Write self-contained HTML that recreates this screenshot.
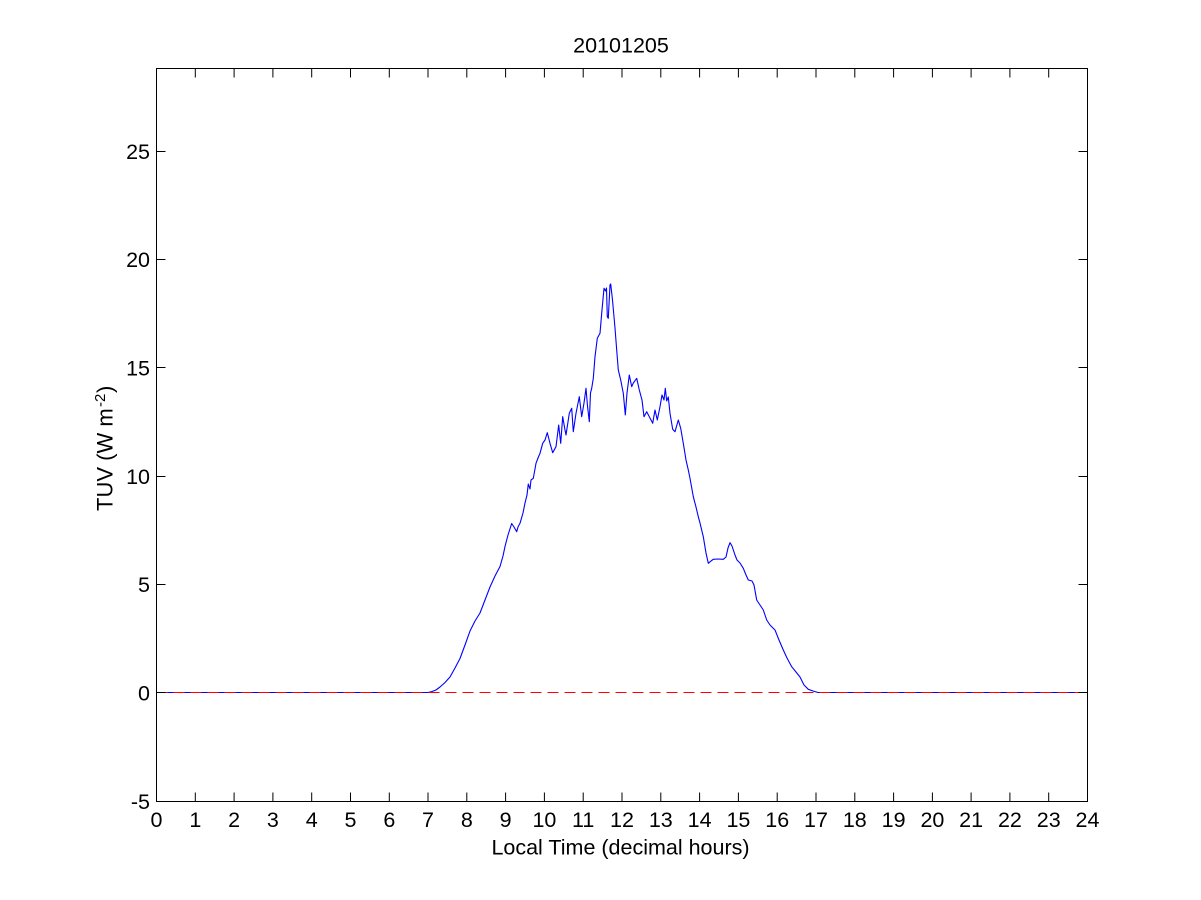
<!DOCTYPE html>
<html>
<head>
<meta charset="utf-8">
<style>
html,body{margin:0;padding:0;background:#fff;}
svg{display:block;}
text{font-family:"Liberation Sans",Arial,sans-serif;fill:#000;}
</style>
</head>
<body>
<svg width="1201" height="900" viewBox="0 0 1201 900" xmlns="http://www.w3.org/2000/svg">
<rect x="0" y="0" width="1201" height="900" fill="#fff"/>

<!-- data line -->
<polyline fill="none" stroke="#0000ff" stroke-width="1.1" stroke-linejoin="round" points="
156.5,692.5 428,692.5 432,691.5 436,690 440,687 445,682.5 450,677 455,668 460,658.5 465,645 470,631 475,621 480,613 485,600 490,587 495,576 500,566.5 503,556 505,546.5 508,535 511.7,523.5 514,527 516.7,531.7 518,527 520,523.3 523,513 525,503 527,495 528.3,484 530,489 531,480 533.3,478.3 536,463.3 538,458 540,453.3 542.7,443.3 545,440 547.3,432.7 550,443.3 552.7,452.7 556,446.7 558.7,425 560.7,443.3 562.7,416.7 565,430 566,435 569.3,413.3 571.7,408.3 573.3,431.7 576,413.3 579.3,396.7 581.7,416.7 584,403 586,388.3 587.5,406 589.3,421.7 590.5,393 591.7,388.3 593.3,378.3 595,356.7 597.3,338.3 600,333.3 601.7,313.3 604,288.3 605.5,291 606.5,288 607.3,316.7 608.3,318.3 610,285 610.7,284 612.5,300 615,328 616.7,350 618.3,370 620.7,380 623.3,393.3 625.3,415 627,393 629.3,375 631.7,386.7 633.3,383 636.7,378.3 639.3,390 642,400 644,416.7 646.7,411.7 649.3,416.7 652.7,423.3 655,410 657.3,420 660,406.7 662,395 664,400 665.3,388.3 666.7,401 668.3,397 670,413.3 672.7,429.3 675,431.7 678.3,420 680.7,428.3 683.3,443.3 686,460 688.3,470 690,478.3 693.3,496.7 696,507 698.3,516.7 700,523 703.3,536.7 706,553 708.3,563.3 711,561 713.3,559.3 718,559 723.3,559.3 726,557 728,548 730,542.7 732,546 734,552 735,555 737,560 740,563 743.3,568.3 746,575 748.3,580 752,581 754,585 756.7,600 760,605 763.3,610 766.7,620 770,625 775,630 779,640 783.3,650 787,658 791.7,666.7 796,672 800,677 804,685 808.3,689.3 813,691 818,692.5 1087.5,692.5"/>

<!-- zero dashed line -->
<line x1="156.5" y1="692.5" x2="1087.5" y2="692.5" stroke="#ff0000" stroke-width="1" stroke-dasharray="11 6" shape-rendering="crispEdges"/>

<!-- axes box -->
<rect x="156.5" y="68.5" width="931" height="733" fill="none" stroke="#000" stroke-width="1"/>

<!-- ticks -->
<g stroke="#000" stroke-width="1">
<path d="
M195.3,801.5v-9 M234.1,801.5v-9 M272.9,801.5v-9 M311.7,801.5v-9 M350.5,801.5v-9 M389.3,801.5v-9 M428.0,801.5v-9 M466.8,801.5v-9 M505.6,801.5v-9 M544.4,801.5v-9 M583.2,801.5v-9 M622.0,801.5v-9 M660.8,801.5v-9 M699.6,801.5v-9 M738.4,801.5v-9 M777.2,801.5v-9 M816.0,801.5v-9 M854.8,801.5v-9 M893.6,801.5v-9 M932.4,801.5v-9 M971.1,801.5v-9 M1009.9,801.5v-9 M1048.7,801.5v-9
M195.3,68.5v9 M234.1,68.5v9 M272.9,68.5v9 M311.7,68.5v9 M350.5,68.5v9 M389.3,68.5v9 M428.0,68.5v9 M466.8,68.5v9 M505.6,68.5v9 M544.4,68.5v9 M583.2,68.5v9 M622.0,68.5v9 M660.8,68.5v9 M699.6,68.5v9 M738.4,68.5v9 M777.2,68.5v9 M816.0,68.5v9 M854.8,68.5v9 M893.6,68.5v9 M932.4,68.5v9 M971.1,68.5v9 M1009.9,68.5v9 M1048.7,68.5v9
M156.5,692.5h9 M156.5,584.5h9 M156.5,476.5h9 M156.5,367.5h9 M156.5,259.5h9 M156.5,151.5h9
M1087.5,692.5h-9 M1087.5,584.5h-9 M1087.5,476.5h-9 M1087.5,367.5h-9 M1087.5,259.5h-9 M1087.5,151.5h-9
"/>
</g>

<!-- y tick labels -->
<g font-size="21.5" text-anchor="end">
<text x="150" y="809">-5</text>
<text x="150" y="700.5">0</text>
<text x="150" y="592">5</text>
<text x="150" y="484">10</text>
<text x="150" y="375.5">15</text>
<text x="150" y="267">20</text>
<text x="150" y="159">25</text>
</g>

<!-- x tick labels -->
<g font-size="21.5" text-anchor="middle">
<text x="156.5" y="827">0</text>
<text x="195.3" y="827">1</text>
<text x="234.1" y="827">2</text>
<text x="272.9" y="827">3</text>
<text x="311.7" y="827">4</text>
<text x="350.5" y="827">5</text>
<text x="389.3" y="827">6</text>
<text x="428.0" y="827">7</text>
<text x="466.8" y="827">8</text>
<text x="505.6" y="827">9</text>
<text x="544.4" y="827">10</text>
<text x="583.2" y="827">11</text>
<text x="622.0" y="827">12</text>
<text x="660.8" y="827">13</text>
<text x="699.6" y="827">14</text>
<text x="738.4" y="827">15</text>
<text x="777.2" y="827">16</text>
<text x="816.0" y="827">17</text>
<text x="854.8" y="827">18</text>
<text x="893.6" y="827">19</text>
<text x="932.4" y="827">20</text>
<text x="971.1" y="827">21</text>
<text x="1009.9" y="827">22</text>
<text x="1048.7" y="827">23</text>
<text x="1087.5" y="827">24</text>
</g>

<!-- title -->
<text x="621" y="52.5" font-size="21.5" text-anchor="middle">20101205</text>

<!-- x label -->
<text x="620.5" y="854.5" font-size="21.5" text-anchor="middle">Local Time (decimal hours)</text>

<!-- y label -->
<g transform="translate(112.5,511) rotate(-90)">
<text x="0" y="0" font-size="22">TUV (W m</text>
<text x="104" y="-7.5" font-size="15">-2</text>
<text x="118" y="0" font-size="22">)</text>
</g>
</svg>
</body>
</html>
